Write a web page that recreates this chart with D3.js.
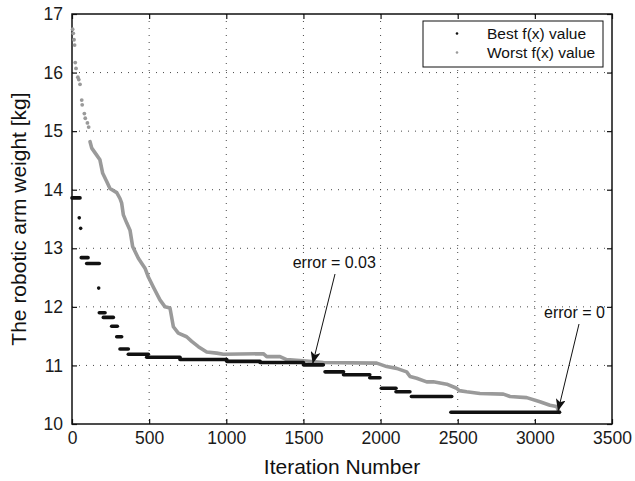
<!DOCTYPE html>
<html><head><meta charset="utf-8">
<script src="https://cdn.jsdelivr.net/npm/d3@7"></script>
<style>body{margin:0;background:#fff;} text{font-family:"Liberation Sans",Arial,sans-serif;}</style>
</head><body><svg id="c" width="635" height="481"></svg>
<script>
const xTicks = [0,500,1000,1500,2000,2500,3000,3500];
const yTicks = [10,11,12,13,14,15,16,17];
// Best f(x): horizontal runs [startIter, endIter, value]
const bestRuns = [
  [0,52,13.86],[47,47,13.52],[56,56,13.34],[60,104,12.84],[95,177,12.74],[173,173,12.32],
  [177,214,11.90],[203,268,11.82],[257,294,11.67],[290,322,11.49],[311,365,11.28],
  [365,495,11.19],[484,700,11.14],[700,1003,11.10],[1003,1219,11.07],[1219,1500,11.05],
  [1500,1629,11.01],[1640,1760,10.89],[1760,1930,10.84],[1930,1996,10.79],[2005,2100,10.61],
  [2100,2190,10.55],[2200,2461,10.47],[2456,3160,10.20]
];
// Worst f(x): early isolated points
const worstDots = [
  [4,16.74],[8,16.67],[13,16.56],[17,16.47],[21,16.17],[26,16.07],[38,15.92],[44,15.88],
  [52,15.80],[63,15.53],[66,15.45],[80,15.30],[86,15.22],[100,15.14],[108,15.07]
];
// Worst f(x): dense continuous part
const worstLine = [
  [117,14.82],[128,14.71],[160,14.59],[181,14.51],[199,14.28],[225,14.14],[246,14.02],[290,13.95],
  [311,13.85],[322,13.77],[333,13.57],[355,13.43],[376,13.31],[393,13.03],[430,12.83],[473,12.66],
  [495,12.51],[527,12.34],[570,12.12],[603,12.00],[635,11.98],[657,11.66],[689,11.55],[743,11.49],
  [776,11.41],[819,11.32],[873,11.23],[938,11.21],[981,11.19],[1240,11.20],[1262,11.15],[1348,11.15],
  [1391,11.10],[1499,11.08],[1629,11.05],[1975,11.04],[2040,10.98],[2104,10.95],[2169,10.89],
  [2191,10.81],[2234,10.78],[2299,10.72],[2342,10.72],[2429,10.68],[2493,10.61],[2510,10.57],
  [2558,10.55],[2644,10.52],[2796,10.51],[2839,10.47],[2947,10.45],[3033,10.38],[3098,10.32],
  [3141,10.30],[3158,10.20]
];
const seriesNames = ["Best f(x) value","Worst f(x) value"];
const annotations = [
  {text:"error = 0.03", at:[1560,11.03]},
  {text:"error = 0", at:[3150,10.22]}
];

const svg = d3.select("#c");
const L=72,R=612,T=14,B=424;
const x = d3.scaleLinear().domain([0,3500]).range([L,R]);
const y = d3.scaleLinear().domain([10,17]).range([B,T]);
const BLACK="#111", GRAY="#9a9a9a";

// grid
const g = svg.append("g");
g.selectAll(".gx").data(xTicks.slice(1,-1)).join("line")
  .attr("x1",d=>x(d)).attr("x2",d=>x(d)).attr("y1",T).attr("y2",B)
  .attr("stroke","#333").attr("stroke-width",0.9).attr("stroke-dasharray","1,6");
g.selectAll(".gy").data(yTicks.slice(1,-1)).join("line")
  .attr("y1",d=>y(d)).attr("y2",d=>y(d)).attr("x1",L).attr("x2",R)
  .attr("stroke","#333").attr("stroke-width",0.9).attr("stroke-dasharray","1,6");

// axes
const fmt = d3.format("d");
const ax = svg.append("g").attr("transform",`translate(0,${B})`)
  .call(d3.axisBottom(x).tickValues(xTicks).tickSizeInner(-5).tickSizeOuter(0).tickPadding(8).tickFormat(fmt));
const axT = svg.append("g").attr("transform",`translate(0,${T})`)
  .call(d3.axisTop(x).tickValues(xTicks).tickSizeInner(-5).tickSizeOuter(0).tickFormat(""));
const ay = svg.append("g").attr("transform",`translate(${L},0)`)
  .call(d3.axisLeft(y).tickValues(yTicks).tickSizeInner(-5).tickSizeOuter(0).tickPadding(9).tickFormat(fmt));
const ayR = svg.append("g").attr("transform",`translate(${R},0)`)
  .call(d3.axisRight(y).tickValues(yTicks).tickSizeInner(-5).tickSizeOuter(0).tickFormat(""));
[ax,axT,ay,ayR].forEach(a=>{
  a.select(".domain").remove();
  a.selectAll("line").attr("stroke","#111").attr("stroke-width",1.2);
  a.selectAll("text").attr("font-size",17.5).attr("fill","#1a1a1a").attr("font-family","Liberation Sans, Arial, sans-serif");
});
svg.append("rect").attr("x",L).attr("y",T).attr("width",R-L).attr("height",B-T)
  .attr("fill","none").attr("stroke","#111").attr("stroke-width",1.5);

// worst series
const line = d3.line().x(d=>x(d[0])).y(d=>y(d[1]));
svg.append("path").datum(worstLine).attr("d",line).attr("fill","none")
  .attr("stroke",GRAY).attr("stroke-width",3.6).attr("stroke-linecap","round").attr("stroke-linejoin","round");
svg.selectAll(".wd").data(worstDots).join("circle")
  .attr("cx",d=>x(d[0])).attr("cy",d=>y(d[1])).attr("r",1.9).attr("fill",GRAY);

// best series
svg.selectAll(".br").data(bestRuns).join("line")
  .attr("x1",d=>x(d[0])).attr("x2",d=>x(d[1])).attr("y1",d=>y(d[2])).attr("y2",d=>y(d[2]))
  .attr("stroke",BLACK).attr("stroke-width",3.6).attr("stroke-linecap","round");

// annotations
const defs = svg.append("defs");
defs.append("marker").attr("id","ah").attr("viewBox","0 0 12 10").attr("refX",12).attr("refY",5)
  .attr("markerWidth",12).attr("markerHeight",10).attr("markerUnits","userSpaceOnUse").attr("orient","auto")
  .append("path").attr("d","M0,0 L12,5 L0,10 L3,5 Z").attr("fill","#111");
const annPos = [{tx:292.7,ty:268,sx:335,sy:274},{tx:544,ty:318,sx:579,sy:324}];
annotations.forEach((a,i)=>{
  const p=annPos[i];
  svg.append("text").attr("x",p.tx).attr("y",p.ty).attr("font-size",16).attr("fill","#111").text(a.text);
  svg.append("line").attr("x1",p.sx).attr("y1",p.sy).attr("x2",x(a.at[0])).attr("y2",y(a.at[1]))
    .attr("stroke","#111").attr("stroke-width",1).attr("marker-end","url(#ah)");
});

// legend
const lg = svg.append("g");
lg.append("rect").attr("x",423).attr("y",21).attr("width",180).attr("height",46)
  .attr("fill","#fff").attr("stroke","#111").attr("stroke-width",1);
seriesNames.forEach((n,i)=>{
  lg.append("circle").attr("cx",457).attr("cy",33.5+i*19).attr("r",1.3).attr("fill",i?GRAY:BLACK);
  lg.append("text").attr("x",487).attr("y",38.5+i*19).attr("font-size",15.5).attr("fill","#111").text(n);
});

// titles
svg.append("text").attr("x",(L+R)/2).attr("y",474).attr("text-anchor","middle")
  .attr("font-size",21).attr("fill","#111").text("Iteration Number");
svg.append("text").attr("transform",`translate(26,${(T+B)/2}) rotate(-90)`).attr("text-anchor","middle")
  .attr("font-size",21).attr("fill","#111").text("The robotic arm weight [kg]");
</script></body></html>
